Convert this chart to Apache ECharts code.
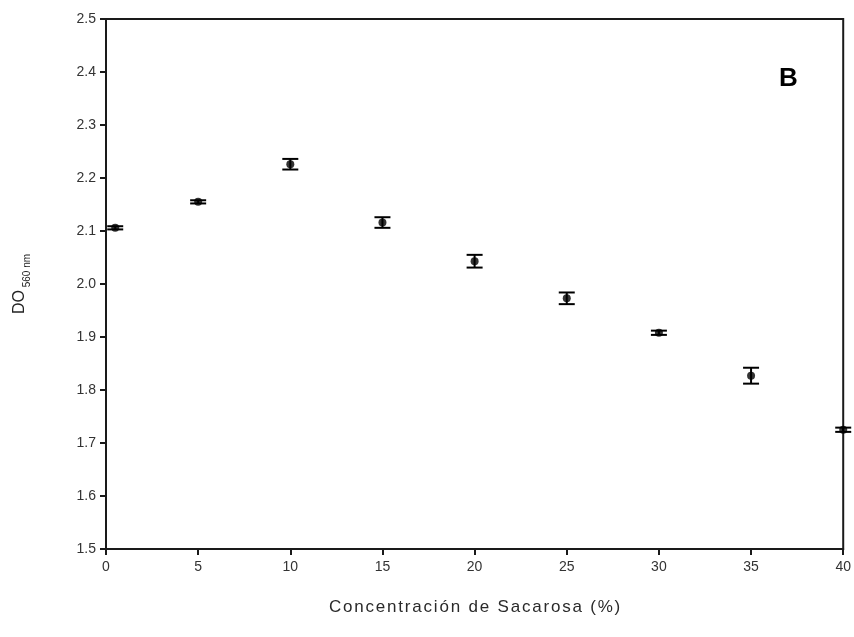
<!DOCTYPE html>
<html>
<head>
<meta charset="utf-8">
<script src="https://cdn.jsdelivr.net/npm/echarts@6/dist/echarts.min.js"></script>
<style>
  html, body { margin: 0; padding: 0; background: #fff; }
  #chart { width: 854px; height: 637px; }
</style>
</head>
<body>
<div id="chart"></div>
<script>
// Sucrose concentration (%) and optical density, with standard error
var concentracion = [0.5, 5, 10, 15, 20, 25, 30, 35, 40];
var densidadOptica = [2.106, 2.155, 2.226, 2.116, 2.043, 1.973, 1.908, 1.827, 1.725];
var errorEstandar = [0.003, 0.003, 0.010, 0.010, 0.012, 0.011, 0.004, 0.015, 0.004];

var xTicks = [0, 5, 10, 15, 20, 25, 30, 35, 40];
var yTicks = [1.5, 1.6, 1.7, 1.8, 1.9, 2.0, 2.1, 2.2, 2.3, 2.4, 2.5];

var tituloX = 'Concentración de Sacarosa (%)';

var puntos = concentracion.map(function (c, i) { return [c, densidadOptica[i]]; });
var barras = concentracion.map(function (c, i) {
  return [c, densidadOptica[i] - errorEstandar[i], densidadOptica[i] + errorEstandar[i]];
});

// Spread the axis title letters out a little (one rich token per character)
function espaciado(texto) {
  return texto.split('').map(function (ch) { return '{s|' + ch + '}'; }).join('');
}

var chart = echarts.init(document.getElementById('chart'), null, { renderer: 'canvas' });
var font = 'Liberation Sans, Arial, sans-serif';
var ink = '#1a1a1a';

chart.setOption({
  animation: false,
  backgroundColor: '#fff',
  grid: {
    left: 106, right: 10, top: 19, bottom: 88,
    show: true, borderColor: ink, borderWidth: 2, backgroundColor: 'transparent'
  },
  xAxis: {
    type: 'value',
    min: xTicks[0], max: xTicks[xTicks.length - 1], interval: 5,
    name: espaciado(tituloX),
    nameLocation: 'middle', nameGap: 50,
    nameTextStyle: {
      rich: {
        s: { fontFamily: font, fontSize: 17, color: '#2a2a2a', padding: [0, 0.9, 0, 0.9] }
      }
    },
    axisLine: { show: true, onZero: false, lineStyle: { color: ink, width: 2 } },
    axisTick: { show: true, inside: false, length: 6, lineStyle: { color: ink, width: 2 } },
    axisLabel: { fontFamily: font, fontSize: 14, color: '#333', margin: 11 },
    splitLine: { show: false }
  },
  yAxis: {
    type: 'value',
    min: yTicks[0], max: yTicks[yTicks.length - 1], interval: 0.1,
    name: '{a|DO}{b| 560 nm}',
    nameLocation: 'middle', nameGap: 78, nameRotate: 90,
    nameTextStyle: {
      rich: {
        a: { fontFamily: font, fontSize: 16, color: '#222', lineHeight: 20, verticalAlign: 'bottom' },
        b: { fontFamily: font, fontSize: 10, color: '#222', lineHeight: 20, verticalAlign: 'bottom', padding: [0, 0, -4, 0] }
      }
    },
    axisLine: { show: true, onZero: false, lineStyle: { color: ink, width: 2 } },
    axisTick: { show: true, inside: false, length: 6, lineStyle: { color: ink, width: 2 } },
    axisLabel: {
      fontFamily: font, fontSize: 14, color: '#333', margin: 10,
      formatter: function (v) { return v.toFixed(1); }
    },
    splitLine: { show: false }
  },
  graphic: [{
    type: 'text',
    left: 779, top: 66,
    style: { text: 'B', font: 'bold 26px ' + font, fill: '#000' }
  }],
  series: [
    {
      type: 'custom',
      data: barras,
      clip: false,
      z: 3,
      renderItem: function (params, api) {
        var x = api.value(0);
        var lo = api.coord([x, api.value(1)]);
        var hi = api.coord([x, api.value(2)]);
        var w = 8;
        var st = { stroke: '#000', lineWidth: 2, fill: null };
        return {
          type: 'group',
          children: [
            { type: 'line', shape: { x1: lo[0], y1: lo[1], x2: hi[0], y2: hi[1] }, style: st },
            { type: 'line', shape: { x1: lo[0] - w, y1: lo[1], x2: lo[0] + w, y2: lo[1] }, style: st },
            { type: 'line', shape: { x1: hi[0] - w, y1: hi[1], x2: hi[0] + w, y2: hi[1] }, style: st }
          ]
        };
      }
    },
    {
      type: 'scatter',
      data: puntos,
      symbol: 'circle',
      symbolSize: 8,
      clip: false,
      z: 4,
      itemStyle: { color: '#000' }
    }
  ]
});
</script>
</body>
</html>
